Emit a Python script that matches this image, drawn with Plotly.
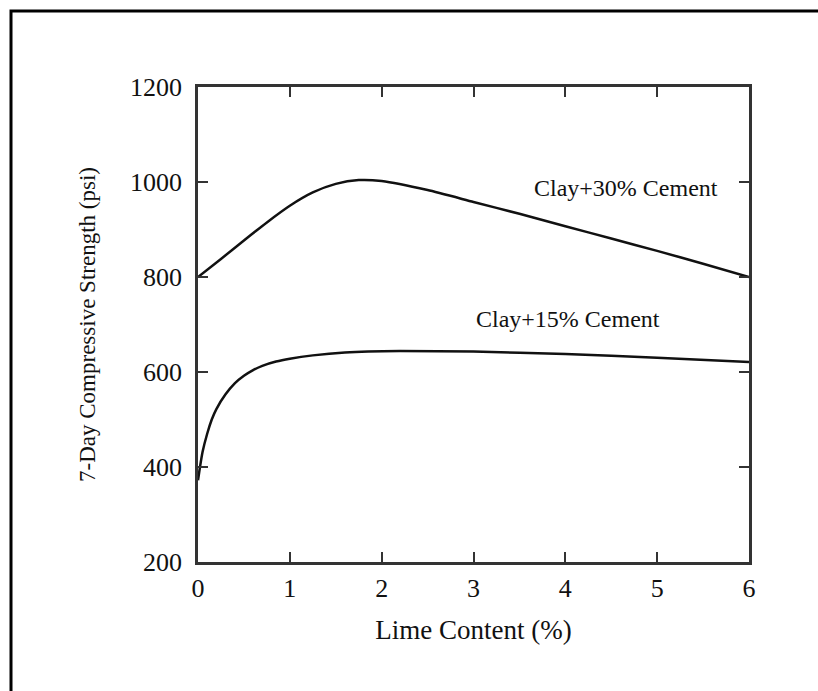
import plotly.graph_objects as go

# Data
lime_30 = [0.0, 0.25, 0.5, 0.75, 1.0, 1.25, 1.5, 1.75, 2.0, 2.5, 3.0, 3.5, 4.0, 4.5, 5.0, 5.5, 6.0]
cement_30 = [800, 838, 877, 915, 950, 978, 996, 1004, 1002, 983, 958, 933, 907, 881, 855, 828, 800]

lime_15 = [0.0, 0.02, 0.05, 0.1, 0.15, 0.2, 0.3, 0.4, 0.5, 0.6, 0.7, 0.85, 1.0, 1.25, 1.6, 2.2, 3.0, 4.0, 5.0, 6.0]
cement_15 = [372, 398, 432, 470, 500, 522, 553, 576, 592, 604, 613, 622, 628, 635, 641, 644, 643, 638, 630, 621]

x_ticks = [0, 1, 2, 3, 4, 5, 6]
y_ticks = [200, 400, 600, 800, 1000, 1200]

font_family = "Liberation Serif, Times New Roman, serif"

fig = go.Figure()
fig.add_trace(go.Scatter(x=lime_30, y=cement_30, mode="lines",
                         line=dict(color="#111111", width=2.5, shape="spline", smoothing=0.6),
                         name="Clay+30% Cement", showlegend=False))
fig.add_trace(go.Scatter(x=lime_15, y=cement_15, mode="lines",
                         line=dict(color="#111111", width=2.5, shape="spline", smoothing=0.6),
                         name="Clay+15% Cement", showlegend=False))

fig.add_annotation(x=4.66, y=988, text="Clay+30% Cement", showarrow=False,
                   font=dict(family=font_family, size=24, color="#111"), xref="x", yref="y")
fig.add_annotation(x=4.03, y=712, text="Clay+15% Cement", showarrow=False,
                   font=dict(family=font_family, size=24, color="#111"), xref="x", yref="y")

# outer frame
fig.add_shape(type="rect", xref="paper", yref="paper",
              x0=(11 - 198) / 551, x1=(830 - 198) / 551,
              y0=(562 - 700) / 475, y1=(562 - 11) / 475,
              line=dict(color="black", width=3), layer="below")

axis_common = dict(showgrid=False, zeroline=False, showline=True, linecolor="#333333",
                   linewidth=2.5, mirror="ticks", ticks="inside", ticklen=10,
                   tickwidth=1.5, tickcolor="#333333",
                   tickfont=dict(family=font_family, size=26, color="#111"))

fig.update_xaxes(range=[0, 6], tickvals=x_ticks,
                 title=dict(text="Lime Content (%)", font=dict(family=font_family, size=27, color="#111"),
                            standoff=19),
                 ticklabelstandoff=1, **axis_common)
fig.update_yaxes(range=[200, 1200], tickvals=y_ticks,
                 title=dict(text="7-Day Compressive Strength (psi)",
                            font=dict(family=font_family, size=23, color="#111"), standoff=28),
                 ticklabelstandoff=8, **axis_common)

fig.update_layout(width=818, height=691, margin=dict(l=198, r=69, t=87, b=129),
                  paper_bgcolor="white", plot_bgcolor="white")

fig.write_html("out.html")
